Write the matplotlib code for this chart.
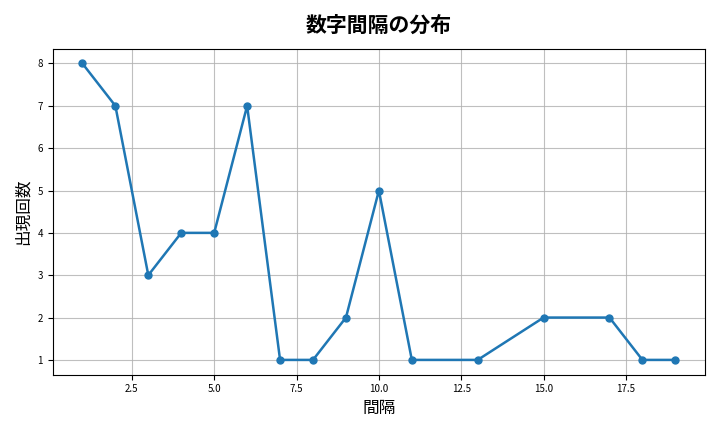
import matplotlib
matplotlib.use("Agg")
import matplotlib.pyplot as plt

plt.rcParams['font.family'] = ['Noto Sans CJK JP', 'DejaVu Sans']

intervals = [1, 2, 3, 4, 5, 6, 7, 8, 9, 10, 11, 13, 15, 17, 18, 19]
counts = [8, 7, 3, 4, 4, 7, 1, 1, 2, 5, 1, 1, 2, 2, 1, 1]

fig, ax = plt.subplots(figsize=(7.2, 4.32), dpi=100)
ax.plot(intervals, counts, "o-", color="#1f77b4", lw=1.8, ms=5)
ax.set_title("数字間隔の分布", fontsize=15, fontweight="bold", pad=12)
ax.set_xlabel("間隔", fontsize=12)
ax.set_ylabel("出現回数", fontsize=12)
ax.tick_params(labelsize=7)
ax.grid(True, alpha=0.8)
fig.tight_layout()
fig.savefig("out.png", dpi=100)
